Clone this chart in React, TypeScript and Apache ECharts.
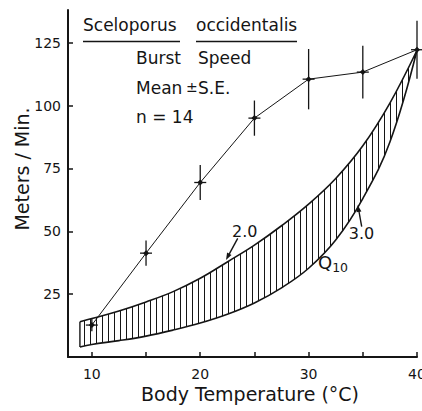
import React, { useEffect, useRef } from "react";
import * as echarts from "echarts";

// Mean burst speed with standard errors
const tempMeans = [10, 15, 20, 25, 30, 35, 40];
const speedMeans = [12.7, 41.3, 69.4, 95, 110.5, 113.3, 122.2];
const speedSE = [2.5, 5, 7, 7, 12, 10.5, 11.5];

// Q10 envelope curves
const tempQ10 = [8.9, 10, 12.5, 15, 17.5, 20, 22.5, 25, 27.5, 30, 32.5, 35, 37.5, 40];
const q10Two = [14, 15.3, 18.3, 21.9, 26, 31.3, 37.8, 44.5, 52.2, 60.8, 71, 84, 101, 122];
const q10Three = [4, 5, 6.5, 8.3, 10.7, 13.5, 17, 21.5, 27.5, 35.3, 46.5, 63, 85.5, 122];

// Axis ticks and labels
const xTicks = [10, 15, 20, 25, 30, 35, 40];
const xLabels = [10, 20, 30, 40];
const yTicks = [25, 50, 75, 100, 125];

const FONT = "DejaVu Sans";
const INK = "#151515";
const GZ = 50;

export default function App() {
  const ref = useRef<HTMLDivElement>(null);

  useEffect(() => {
    if (!ref.current) return;
    const chart = echarts.init(ref.current, null, { renderer: "svg" });

    const decal = {
      symbol: "rect",
      symbolSize: 1,
      symbolKeepAspect: false,
      dashArrayX: [1, 5],
      dashArrayY: [10, 0],
      rotation: 0,
      color: INK,
      backgroundColor: "rgba(0,0,0,0)",
    };

    const txt = (text: string, left: number, top: number, size = 17) => ({
      type: "text",
      left,
      top,
      z: GZ,
      style: { text, fontSize: size, fontFamily: FONT, fill: INK },
    });

    const option: any = {
      animation: false,
      backgroundColor: "#ffffff",
      grid: {
        left: 68,
        right: 5,
        top: 10,
        bottom: 54,
        containLabel: false,
        outerBoundsMode: "none",
      },
      xAxis: {
        type: "value",
        min: 7.8,
        max: 40,
        z: 10,
        axisLine: { show: true, lineStyle: { color: INK, width: 2 } },
        axisTick: {
          show: true,
          inside: true,
          length: 5,
          customValues: xTicks,
          lineStyle: { color: INK, width: 1.5 },
        },
        axisLabel: {
          customValues: xLabels,
          fontSize: 14,
          fontFamily: FONT,
          color: INK,
          margin: 10,
        },
        splitLine: { show: false },
      },
      yAxis: {
        type: "value",
        min: 0,
        max: 138,
        z: 10,
        axisLine: { show: true, lineStyle: { color: INK, width: 2 } },
        axisTick: {
          show: true,
          inside: true,
          length: 5,
          customValues: yTicks,
          lineStyle: { color: INK, width: 1.5 },
        },
        axisLabel: {
          customValues: yTicks,
          fontSize: 14,
          fontFamily: FONT,
          color: INK,
          margin: 7,
        },
        splitLine: { show: false },
      },
      series: [
        {
          type: "line",
          name: "Q10 = 2.0",
          smooth: 0.4,
          symbol: "none",
          data: tempQ10.map((t, i) => [t, q10Two[i]]),
          lineStyle: { color: INK, width: 1.6 },
          areaStyle: { color: "#ffffff", opacity: 1 },
          itemStyle: { color: INK, decal },
          z: 1,
        },
        {
          type: "line",
          name: "Q10 = 3.0",
          smooth: 0.4,
          symbol: "none",
          data: tempQ10.map((t, i) => [t, q10Three[i]]),
          lineStyle: { color: INK, width: 1.6 },
          areaStyle: { color: "#ffffff", opacity: 1 },
          itemStyle: { color: INK },
          z: 2,
        },
        {
          type: "line",
          name: "edge",
          symbol: "none",
          data: [
            [tempQ10[0], q10Three[0]],
            [tempQ10[0], q10Two[0]],
          ],
          lineStyle: { color: INK, width: 1.4 },
          z: 3,
        },
        {
          type: "line",
          name: "mean",
          symbol: "diamond",
          symbolSize: 6,
          data: tempMeans.map((t, i) => [t, speedMeans[i]]),
          itemStyle: { color: INK },
          lineStyle: { color: INK, width: 1 },
          z: 4,
        },
        {
          type: "custom",
          name: "se",
          data: tempMeans.map((t, i) => [t, speedMeans[i], speedSE[i]]),
          renderItem: (params: any, api: any) => {
            const x = api.value(0);
            const y = api.value(1);
            const se = api.value(2);
            const top = api.coord([x, y + se]);
            const bot = api.coord([x, y - se]);
            const c = api.coord([x, y]);
            return {
              type: "group",
              children: [
                {
                  type: "line",
                  shape: { x1: top[0], y1: top[1], x2: bot[0], y2: bot[1] },
                  style: { stroke: INK, lineWidth: 1.3 },
                },
                {
                  type: "line",
                  shape: { x1: c[0] - 6, y1: c[1], x2: c[0] + 6, y2: c[1] },
                  style: { stroke: INK, lineWidth: 1.3 },
                },
              ],
            };
          },
          z: 5,
        },
      ],
      graphic: [
        txt("Sceloporus", 83, 16),
        txt("occidentalis", 196, 16),
        {
          type: "line",
          z: GZ,
          shape: { x1: 83, y1: 41.5, x2: 180, y2: 41.5 },
          style: { stroke: INK, lineWidth: 1.6 },
        },
        {
          type: "line",
          z: GZ,
          shape: { x1: 196, y1: 41.5, x2: 297, y2: 41.5 },
          style: { stroke: INK, lineWidth: 1.6 },
        },
        txt("Burst", 136, 49),
        txt("Speed", 198, 49),
        txt("Mean", 136, 79),
        txt("±", 186, 80, 14),
        txt("S.E.", 198, 79),
        txt("n = 14", 136, 108),
        {
          type: "text",
          z: GZ,
          x: 244.7,
          y: 231,
          style: {
            text: "2.0",
            fontSize: 16,
            fontFamily: FONT,
            fill: INK,
            align: "center",
            verticalAlign: "middle",
          },
        },
        {
          type: "text",
          z: GZ,
          x: 361.5,
          y: 233,
          style: {
            text: "3.0",
            fontSize: 16,
            fontFamily: FONT,
            fill: INK,
            align: "center",
            verticalAlign: "middle",
          },
        },
        {
          type: "text",
          z: GZ,
          x: 318,
          y: 262,
          style: {
            text: "Q{sub|10}",
            fontSize: 18,
            fontFamily: FONT,
            fill: INK,
            align: "left",
            verticalAlign: "middle",
            rich: {
              sub: {
                fontSize: 12.5,
                fontFamily: FONT,
                fill: INK,
                padding: [10, 0, 0, 0],
              },
            },
          },
        },
        {
          type: "line",
          z: GZ,
          shape: { x1: 237.7, y1: 238.3, x2: 228.5, y2: 255.3 },
          style: { stroke: INK, lineWidth: 1.4 },
        },
        {
          type: "polygon",
          z: GZ,
          shape: {
            points: [
              [226, 260],
              [231.5, 255],
              [227.1, 252.6],
            ],
          },
          style: { fill: INK },
        },
        {
          type: "line",
          z: GZ,
          shape: { x1: 361.7, y1: 226.7, x2: 358.8, y2: 210.5 },
          style: { stroke: INK, lineWidth: 1.4 },
        },
        {
          type: "polygon",
          z: GZ,
          shape: {
            points: [
              [357.7, 205],
              [361.4, 211.4],
              [356.5, 212.3],
            ],
          },
          style: { fill: INK },
        },
        {
          type: "text",
          z: GZ,
          x: 22,
          y: 169,
          rotation: Math.PI / 2,
          style: {
            text: "Meters / Min.",
            fontSize: 19,
            fontFamily: FONT,
            fill: INK,
            align: "center",
            verticalAlign: "middle",
          },
        },
        {
          type: "text",
          z: GZ,
          x: 250,
          y: 394,
          style: {
            text: "Body Temperature (°C)",
            fontSize: 19,
            fontFamily: FONT,
            fill: INK,
            align: "center",
            verticalAlign: "middle",
          },
        },
      ],
    };

    chart.setOption(option);
    return () => {
      chart.dispose();
    };
  }, []);

  return (
    <div
      ref={ref}
      style={{ position: "absolute", left: 0, top: 0, width: 422, height: 411 }}
    />
  );
}
